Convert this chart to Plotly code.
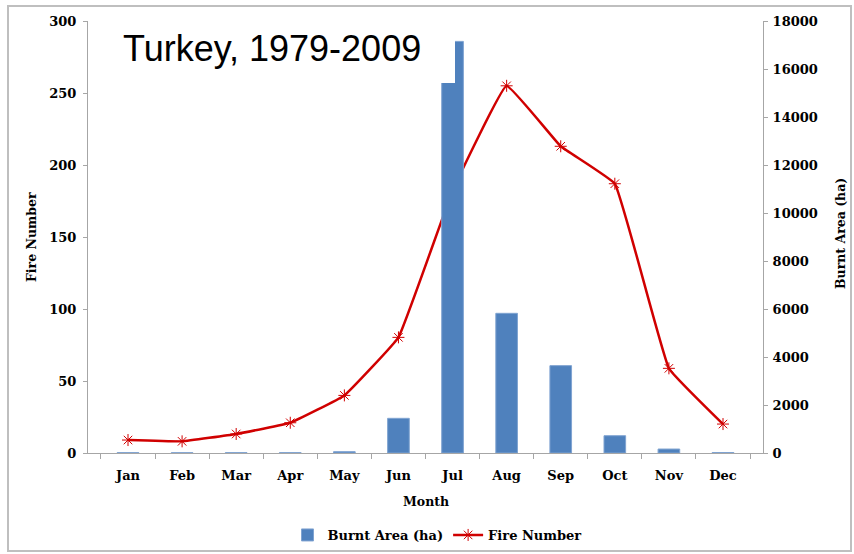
import plotly.graph_objects as go

months = ["Jan", "Feb", "Mar", "Apr", "May", "Jun", "Jul", "Aug", "Sep", "Oct", "Nov", "Dec"]
burnt_area_ha = [15, 12, 15, 15, 55, 1445, 17150, 5820, 3640, 720, 165, 20]
fire_number = [9.0, 8.1, 13.2, 21.0, 40.0, 80.3, 182.0, 255.0, 213.0, 187.0, 58.8, 20.1]
left_ticks = [0, 50, 100, 150, 200, 250, 300]
right_ticks = [0, 2000, 4000, 6000, 8000, 10000, 12000, 14000, 16000, 18000]

W, H = 854, 554
L, R, T, B = 88, 763, 21, 453  # plot area in pixels
pw, ph = R - L, B - T

def px_x(x):
    return (x - L) / pw

def px_y(y):
    return (B - y) / ph

serif = "DejaVu Serif"
tickfont = dict(family=serif, size=13, color="black", weight="bold")
titlefont = dict(family=serif, size=12.5, color="black", weight="bold")

fig = go.Figure()
fig.add_trace(go.Bar(
    x=months, y=burnt_area_ha, name="Burnt Area (ha)", yaxis="y2",
    marker=dict(color="#4F81BD", line=dict(color="#7FA3D1", width=1)),
))
fig.add_trace(go.Scatter(
    x=months, y=fire_number, name="Fire Number", yaxis="y",
    mode="lines+markers", line=dict(color="#D00000", width=2.5, shape="spline", smoothing=0.25),
    marker=dict(symbol="asterisk-open", size=10, color="#D00000", line=dict(color="#D00000", width=1)),
))

fig.update_layout(
    width=W, height=H,
    margin=dict(l=L, r=W - R, t=T, b=H - B, autoexpand=False),
    paper_bgcolor="white", plot_bgcolor="white",
    bargap=0.6,
    showlegend=True,
    legend=dict(orientation="h", x=px_x(437), xanchor="center", y=px_y(535), yanchor="middle",
                font=dict(family=serif, size=13, color="black", weight="bold"),
                traceorder="normal", itemwidth=30),
    xaxis=dict(
        type="category", showline=True, linecolor="#A6A6A6", linewidth=1,
        ticks="outside", tickson="boundaries", ticklen=5, tickcolor="#A6A6A6",
        tickfont=tickfont, showgrid=False, zeroline=False, automargin=False,
        ticklabelstandoff=10,
    ),
    yaxis=dict(
        range=[0, 300], tickvals=left_ticks, showline=True, linecolor="#A6A6A6", linewidth=1,
        ticks="outside", ticklen=4, tickcolor="#A6A6A6", tickfont=tickfont,
        showgrid=False, zeroline=False, automargin=False, ticklabelstandoff=4,
    ),
    yaxis2=dict(
        range=[0, 18000], tickvals=right_ticks, ticktext=[str(v) for v in right_ticks],
        overlaying="y", side="right",
        showline=True, linecolor="#A6A6A6", linewidth=1,
        ticks="outside", ticklen=4, tickcolor="#A6A6A6", tickfont=tickfont,
        showgrid=False, zeroline=False, automargin=False, ticklabelstandoff=2,
    ),
    shapes=[
        dict(type="rect", xref="paper", yref="paper", layer="above",
             x0=px_x(110), x1=px_x(455), y0=px_y(83), y1=px_y(T + 0.5),
             fillcolor="white", line=dict(width=0)),
        dict(type="rect", xref="paper", yref="paper", layer="above",
             x0=px_x(8), x1=px_x(851), y0=px_y(551), y1=px_y(6),
             fillcolor="rgba(0,0,0,0)", line=dict(color="#BFBFBF", width=2)),
    ],
    annotations=[
        dict(text="Turkey, 1979-2009", xref="paper", yref="paper",
             x=px_x(121), y=px_y(48), xanchor="left", yanchor="middle", showarrow=False,
             font=dict(family="Liberation Sans", size=36, color="black")),
        dict(text="Month", xref="paper", yref="paper", x=px_x(426), y=px_y(501),
             xanchor="center", yanchor="middle", showarrow=False, font=titlefont),
        dict(text="Fire Number", xref="paper", yref="paper", x=px_x(31), y=px_y(237),
             xanchor="center", yanchor="middle", showarrow=False, textangle=-90, font=titlefont),
        dict(text="Burnt Area (ha)", xref="paper", yref="paper", x=px_x(840), y=px_y(234),
             xanchor="center", yanchor="middle", showarrow=False, textangle=-90, font=titlefont),
    ],
)

fig.write_html("out.html", config={"displayModeBar": False},
               post_script="document.body.style.margin='0';")
